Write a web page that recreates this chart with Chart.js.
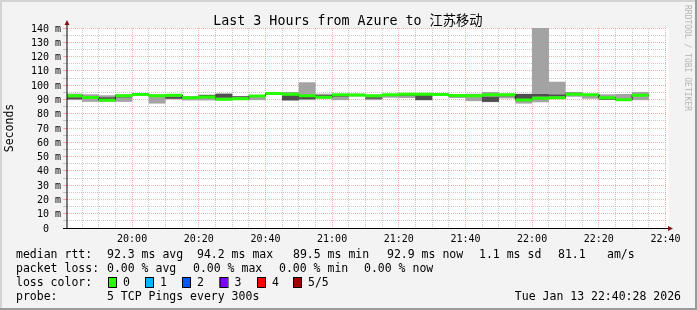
<!DOCTYPE html>
<html>
<head>
<meta charset="utf-8">
<script src="https://cdn.jsdelivr.net/npm/chart.js@4.4.1/dist/chart.umd.min.js"></script>
<style>
  html, body { margin: 0; padding: 0; background: #f3f3f3; }
  canvas { display: block; }
</style>
</head>
<body>
<canvas id="myChart" width="697" height="310"></canvas>
<script>
// time window of the graph
const startTime = '19:40:28';
const endTime = '22:40:28';
const stepMin = 5; // 5 TCP pings every 300s

// end time of each 5 minute slot
const slotEnds = ['19:45', '19:50', '19:55', '20:00', '20:05', '20:10', '20:15', '20:20', '20:25',
                  '20:30', '20:35', '20:40', '20:45', '20:50', '20:55', '21:00', '21:05', '21:10',
                  '21:15', '21:20', '21:25', '21:30', '21:35', '21:40', '21:45', '21:50', '21:55',
                  '22:00', '22:05', '22:10', '22:15', '22:20', '22:25', '22:30', '22:35'];

// median rtt per slot (ms)
const medianRtt = [92.6, 91.4, 89.5, 92.6, 93.4, 92.6, 92.9, 91.2, 91.7, 90.2, 90.4, 92.4,
                   94.2, 93.6, 92.5, 91.5, 93.3, 93.1, 92.5, 93.3, 93.6, 93.6, 93.5, 92.7,
                   92.6, 93.2, 93.2, 89.6, 90.9, 91.2, 93.6, 93.3, 91.2, 89.8, 92.9];

// outer smoke (fastest / slowest ping)
const smokeLow = [89.5, 88.3, 88.3, 88.3, 92.6, 87.1, 90.0, 89.3, 89.3, 89.3, 89.8, 89.5,
                  93.2, 89.0, 89.5, 90.5, 89.5, 92.0, 89.5, 91.2, 91.0, 89.5, 92.8, 91.0,
                  88.8, 88.1, 90.7, 87.1, 88.1, 90.5, 91.9, 90.5, 89.8, 89.3, 89.5];
const smokeHigh = [94.1, 93.6, 92.9, 93.6, 94.1, 93.6, 93.6, 92.4, 93.2, 94.0, 92.2, 92.9,
                   94.6, 95.2, 102.0, 94.0, 93.6, 94.0, 93.0, 93.8, 94.3, 94.0, 94.3, 93.3,
                   94.0, 95.2, 94.0, 94.0, 142.0, 102.4, 94.8, 93.8, 93.6, 93.8, 95.2];

// inner smoke (2nd / 4th ping), null where it is hidden by the median
const coreLow = [90.2, null, 89.5, 91.4, 93.6, null, 90.5, null, 92.4, 91.2, 91.5, null,
                 94.2, 89.5, 90.2, 92.0, 92.0, null, 90.5, null, 92.4, 89.5, null, 91.9,
                 null, 88.3, 92.2, 89.5, 92.0, 92.1, 94.0, null, 89.8, null, null];
const coreHigh = [91.4, null, 91.4, 92.4, 94.1, null, 91.8, null, 93.2, 94.0, 92.2, null,
                  94.6, 92.9, 91.9, 93.0, 92.6, null, 91.5, null, 93.0, 93.5, null, 92.3,
                  null, 91.9, 92.6, 93.8, 93.8, 93.4, 94.8, null, 90.5, null, null];

const xTickLabels = ['20:00', '20:20', '20:40', '21:00', '21:20', '21:40', '22:00', '22:20', '22:40'];
const yTickValues = [0, 10, 20, 30, 40, 50, 60, 70, 80, 90, 100, 110, 120, 130, 140];
const yTickLabels = ['0  ', '10 m', '20 m', '30 m', '40 m', '50 m', '60 m', '70 m', '80 m', '90 m',
                     '100 m', '110 m', '120 m', '130 m', '140 m'];

const titleText = 'Last 3 Hours from Azure to 江苏移动';
const rttStats = ['92.3 ms avg', '94.2 ms max', '89.5 ms min', '92.9 ms now', '1.1 ms sd', '81.1', 'am/s'];
const lossStats = ['0.00 % avg', '0.00 % max', '0.00 % min', '0.00 % now'];
const lossLabels = ['0', '1', '2', '3', '4', '5/5'];
const lossColors = ['#26ff00', '#00b8ff', '#0059ff', '#7e00ff', '#ff0000', '#a10000'];
const probeText = '5 TCP Pings every 300s';
const stampText = 'Tue Jan 13 22:40:28 2026';

const MONO = "'DejaVu Sans Mono', 'Noto Sans CJK SC', monospace";
const majorGrid = 'rgba(255, 90, 90, 0.5)';
const minorGrid = 'rgba(150, 150, 150, 0.5)';

function toMin(s) {
    const p = s.split(':').map(Number);
    return p[0] * 60 + p[1] + (p[2] || 0) / 60;
}

const xMin = toMin(startTime);
const xMax = toMin(endTime);

const lightData = slotEnds.map((t, i) => ({ x: toMin(t) - stepMin / 2, y: [smokeLow[i], smokeHigh[i]] }));
const darkData = slotEnds
    .map((t, i) => ({ x: toMin(t) - stepMin / 2, y: [coreLow[i], coreHigh[i]] }))
    .filter((d, i) => coreLow[i] !== null);
const medianSteps = slotEnds.flatMap((t, i) => [
    { x: toMin(t) - stepMin, y: medianRtt[i] },
    { x: toMin(t), y: medianRtt[i] }
]);
const medianSegments = slotEnds.flatMap((t, i) => [
    { x: toMin(t) - stepMin, y: medianRtt[i] },
    { x: toMin(t), y: medianRtt[i] },
    { x: toMin(t), y: null }
]);

// frame, axes, arrows, title and the text block under the graph
const rrdFrame = {
    id: 'rrdFrame',
    beforeDraw(chart) {
        const { ctx, chartArea: a, width, height } = chart;
        ctx.save();
        ctx.fillStyle = '#f3f3f3';
        ctx.fillRect(0, 0, width, height);
        ctx.fillStyle = '#ffffff';
        ctx.fillRect(a.left, a.top, a.right - a.left + 2, a.bottom - a.top);
        ctx.fillStyle = '#d4d4d4';
        ctx.fillRect(0, 0, width, 2);
        ctx.fillRect(0, 0, 2, height);
        ctx.fillStyle = '#9a9a9a';
        ctx.fillRect(0, height - 2, width, 2);
        ctx.fillRect(width - 2, 0, 2, height);
        ctx.restore();
    },
    afterDatasetsDraw(chart) {
        const { ctx, chartArea: a } = chart;
        ctx.save();
        ctx.strokeStyle = '#000';
        ctx.lineWidth = 1;
        ctx.beginPath();
        ctx.moveTo(a.left - 4, a.bottom + 0.5);
        ctx.lineTo(a.right + 2, a.bottom + 0.5);
        ctx.moveTo(a.left, a.bottom + 1);
        ctx.lineTo(a.left, a.top - 4);
        ctx.stroke();
        ctx.fillStyle = '#8b1010';
        ctx.beginPath();
        ctx.moveTo(a.left - 2.5, a.top - 3);
        ctx.lineTo(a.left + 2.5, a.top - 3);
        ctx.lineTo(a.left, a.top - 8);
        ctx.closePath();
        ctx.fill();
        ctx.beginPath();
        ctx.moveTo(a.right + 1, a.bottom - 2);
        ctx.lineTo(a.right + 1, a.bottom + 3);
        ctx.lineTo(a.right + 6, a.bottom + 0.5);
        ctx.closePath();
        ctx.fill();
        ctx.restore();
    },
    afterDraw(chart) {
        const ctx = chart.ctx;
        ctx.save();
        // watermark
        ctx.fillStyle = '#b4b4b4';
        ctx.font = '8px ' + MONO;
        ctx.textBaseline = 'middle';
        ctx.translate(687, 5);
        ctx.rotate(Math.PI / 2);
        ctx.fillText('RRDTOOL / TOBI OETIKER', 0, 0);
        ctx.restore();

        ctx.save();
        ctx.fillStyle = '#000';
        ctx.textBaseline = 'middle';
        ctx.font = '13.3px ' + MONO;
        ctx.textAlign = 'center';
        ctx.fillText(titleText, 348, 21.5);
        ctx.textAlign = 'left';

        ctx.font = '11.5px ' + MONO;
        const rttX = [107, 197, 293, 387, 479, 558, 607];
        ctx.fillText('median rtt:', 16, 255);
        rttStats.forEach((s, i) => ctx.fillText(s, rttX[i], 255));
        const lossX = [107, 193, 279, 364];
        ctx.fillText('packet loss:', 16, 269);
        lossStats.forEach((s, i) => ctx.fillText(s, lossX[i], 269));
        ctx.fillText('loss color:', 16, 283);
        const boxX = [108, 145, 182, 219.5, 257, 293];
        lossLabels.forEach((s, i) => {
            ctx.fillStyle = lossColors[i];
            ctx.fillRect(boxX[i], 277, 8, 10);
            ctx.strokeStyle = '#000';
            ctx.lineWidth = 1;
            ctx.strokeRect(boxX[i] + 0.5, 277.5, 8, 10);
            ctx.fillStyle = '#000';
            ctx.fillText(s, boxX[i] + 15, 283);
        });
        ctx.fillText('probe:', 16, 297);
        ctx.fillText(probeText, 107, 297);
        ctx.textAlign = 'right';
        ctx.fillText(stampText, 681, 297);
        ctx.restore();
    }
};

const ctx = document.getElementById('myChart').getContext('2d');
const myChart = new Chart(ctx, {
    type: 'bar',
    data: {
        datasets: [
            {
                type: 'line',
                label: 'median',
                data: medianSegments,
                borderColor: lossColors[0],
                borderWidth: 3,
                pointRadius: 0,
                spanGaps: false,
                clip: 0,
                order: 0
            },
            {
                type: 'line',
                label: 'median step',
                data: medianSteps,
                borderColor: '#202020',
                borderWidth: 1,
                pointRadius: 0,
                clip: 0,
                order: 1
            },
            {
                label: 'inner smoke',
                data: darkData,
                backgroundColor: '#4e4e4e',
                barPercentage: 1.02,
                categoryPercentage: 1,
                grouped: false,
                clip: 0,
                order: 2
            },
            {
                label: 'outer smoke',
                data: lightData,
                backgroundColor: '#a3a3a3',
                barPercentage: 1.02,
                categoryPercentage: 1,
                grouped: false,
                clip: 0,
                order: 3
            }
        ]
    },
    options: {
        responsive: false,
        devicePixelRatio: 1,
        animation: false,
        events: [],
        layout: {
            padding: { left: 0, right: 30, top: 28, bottom: 0 }
        },
        scales: {
            x: {
                type: 'linear',
                min: xMin,
                max: xMax,
                offset: false,
                afterFit: (scale) => { scale.height = 82; },
                afterBuildTicks: (scale) => {
                    const ticks = [];
                    for (let t = Math.ceil(xMin / stepMin) * stepMin; t <= xMax; t += stepMin) {
                        ticks.push({ value: t });
                    }
                    scale.ticks = ticks;
                },
                ticks: {
                    autoSkip: false,
                    maxRotation: 0,
                    padding: 5,
                    color: '#000',
                    font: { family: MONO, size: 10 },
                    callback: (value) => {
                        const label = xTickLabels.find(l => Math.abs(toMin(l) - value) < 0.01);
                        return label || '';
                    }
                },
                grid: {
                    offset: false,
                    drawTicks: false,
                    lineWidth: 1,
                    color: (c) => (c.tick && xTickLabels.some(l => Math.abs(toMin(l) - c.tick.value) < 0.01)) ? majorGrid : minorGrid
                },
                border: { display: false, dash: [1, 1] }
            },
            y: {
                min: 0,
                max: 140,
                afterFit: (scale) => { scale.width = 67; },
                afterBuildTicks: (scale) => {
                    const ticks = [];
                    for (let v = 0; v <= 140; v += 5) ticks.push({ value: v });
                    scale.ticks = ticks;
                },
                ticks: {
                    autoSkip: false,
                    padding: 2,
                    labelOffset: 1,
                    color: '#000',
                    font: { family: MONO, size: 10 },
                    callback: (value) => {
                        const i = yTickValues.indexOf(value);
                        return i >= 0 ? yTickLabels[i] : '';
                    }
                },
                grid: {
                    drawTicks: true,
                    tickLength: 4,
                    lineWidth: 1,
                    color: (c) => (c.tick && yTickValues.includes(c.tick.value)) ? majorGrid : minorGrid
                },
                border: { display: false, dash: [1, 1] },
                title: {
                    display: true,
                    text: 'Seconds',
                    color: '#000',
                    font: { family: MONO, size: 11.5 },
                    padding: { top: 3, bottom: 0 }
                }
            }
        },
        plugins: {
            legend: { display: false },
            tooltip: { enabled: false },
            title: { display: false }
        }
    },
    plugins: [rrdFrame]
});
</script>
</body>
</html>
